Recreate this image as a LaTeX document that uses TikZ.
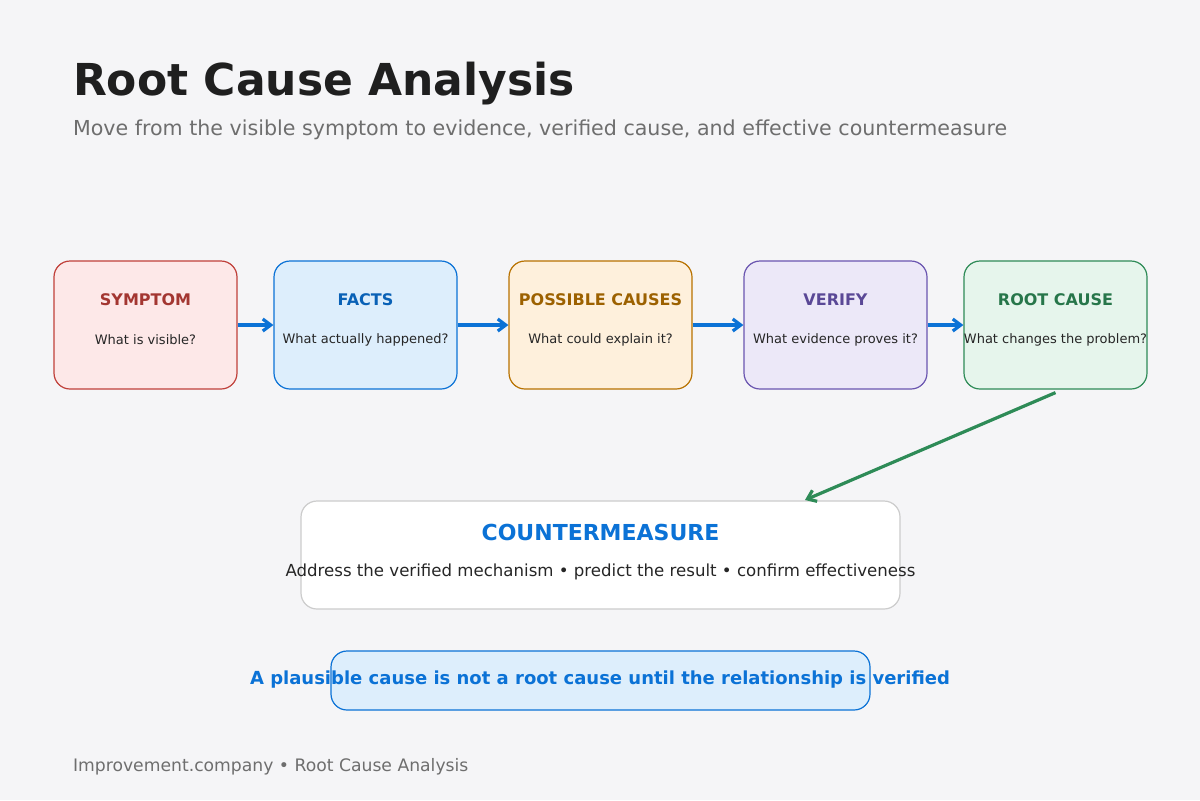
\documentclass[tikz,border=0pt]{standalone}
\usepackage{fontspec}
\setmainfont{DejaVu Sans}
\usetikzlibrary{arrows.meta,positioning}
\definecolor{bgc}{HTML}{F5F5F7}
\definecolor{redl}{HTML}{FDE8E8}\definecolor{redd}{HTML}{C0403A}
\definecolor{bluel}{HTML}{DDEEFC}\definecolor{blued}{HTML}{0B72D6}
\definecolor{orgl}{HTML}{FEF0DC}\definecolor{orgd}{HTML}{B87200}
\definecolor{purl}{HTML}{ECE8F8}\definecolor{purd}{HTML}{6A55B0}
\definecolor{grnl}{HTML}{E6F5EC}\definecolor{grnd}{HTML}{2E8B57}
\definecolor{greyt}{HTML}{6E6E6E}
\newcommand{\stepbox}[6]{%
  \node[stepbox, fill=#3, draw=#4] (#1) at (#2,325) {};
  \node[font=\fontsize{8}{9.6}\selectfont\bfseries, text=#4!85!black] at (#2,300) {#5};
  \node[font=\fontsize{6.5}{8}\selectfont, text=black!85] at (#2,340) {#6};}
\begin{document}
\begin{tikzpicture}[
    x=0.5pt, y=-0.5pt,
    stepbox/.style={rectangle, rounded corners=8pt, minimum width=91.5pt, minimum height=64pt, line width=0.6pt},
    flow/.style={-{Straight Barb[length=4pt,width=6pt]}, line width=1.6pt, blued},
  ]
\fill[bgc] (0,0) rectangle (1200,800);
\node[anchor=west, font=\fontsize{22}{26}\selectfont\bfseries, text=black!88] (title) at (66,84) {Root Cause Analysis};
\node[anchor=west, font=\fontsize{10.3}{12}\selectfont, text=greyt] (sub) at (66,130) {Move from the visible symptom to evidence, verified cause, and effective countermeasure};
% steps
\stepbox{symptom}{145.5}{redl}{redd}{SYMPTOM}{What is visible?}
\stepbox{facts}{365.5}{bluel}{blued}{FACTS}{What actually happened?}
\stepbox{causes}{600.5}{orgl}{orgd}{POSSIBLE CAUSES}{What could explain it?}
\stepbox{verify}{835.5}{purl}{purd}{VERIFY}{What evidence proves it?}
\stepbox{root}{1055.5}{grnl}{grnd}{ROOT CAUSE}{What changes the problem?}
\draw[flow] (symptom) -- (facts);
\draw[flow] (facts) -- (causes);
\draw[flow] (causes) -- (verify);
\draw[flow] (verify) -- (root);
% countermeasure
\node[rectangle, rounded corners=8pt, fill=white, draw=black!20, line width=0.6pt, minimum width=299.5pt, minimum height=54pt] (counter) at (600.5,555) {};
\node[font=\fontsize{11}{13}\selectfont\bfseries, text=blued] at (600.5,532) {COUNTERMEASURE};
\node[font=\fontsize{8.3}{10}\selectfont, text=black!85] at (600.5,572) {Address the verified mechanism • predict the result • confirm effectiveness};
\coordinate (cm) at (805,500);
\draw[-{Straight Barb[length=4pt,width=6pt]}, line width=1.6pt, grnd] ([yshift=-1.5pt]root.south) -- (cm);
% note
\node[rectangle, rounded corners=8pt, fill=bluel, draw=blued, line width=0.6pt, minimum width=269.5pt, minimum height=29.5pt] (note) at (600.5,680.5) {};
\node[font=\fontsize{9}{11}\selectfont\bfseries, text=blued] at (600,680) {A plausible cause is not a root cause until the relationship is verified};
\node[anchor=west, font=\fontsize{8.6}{10}\selectfont, text=greyt] (foot) at (66,767) {Improvement.company • Root Cause Analysis};
\end{tikzpicture}
\end{document}
